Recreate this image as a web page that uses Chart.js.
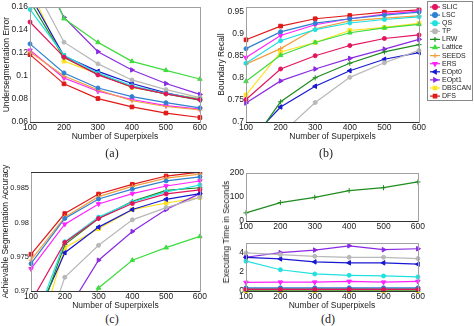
<!DOCTYPE html>
<html>
<head>
<meta charset="utf-8">
<script src="https://cdn.jsdelivr.net/npm/chart.js@4.4.1/dist/chart.umd.min.js"></script>
<style>
  html, body { margin: 0; padding: 0; background: #fff; }
  #fig { position: relative; width: 474px; height: 326px; overflow: hidden; }
  canvas { position: absolute; }
  .cap { position: absolute; font-family: 'Liberation Serif', 'Times New Roman', serif; font-size: 12px; color: #222; transform: translate(-50%, -50%); }
  .ylab { position: absolute; font-family: 'Liberation Sans', Arial, sans-serif; font-size: 8.5px; color: #222; white-space: nowrap; transform: translate(-50%, -50%) rotate(-90deg); }
</style>
</head>
<body>
<div id="fig">
  <canvas id="chA" width="208" height="142" style="left:0;top:0"></canvas>
  <canvas id="chB" width="262" height="142" style="left:212px;top:0"></canvas>
  <canvas id="chC" width="208" height="151" style="left:0;top:160px"></canvas>
  <canvas id="chD1" width="214" height="67" style="left:212px;top:166px"></canvas>
  <canvas id="chD2" width="214" height="75" style="left:212px;top:236px"></canvas>
  <div class="cap" style="left:112px;top:153px">(a)</div>
  <div class="cap" style="left:326px;top:153px">(b)</div>
  <div class="cap" style="left:112px;top:319px">(c)</div>
  <div class="cap" style="left:328px;top:319px">(d)</div>
  <div class="ylab" style="left:226px;top:232px">Executing Time in Seconds</div>
</div>
<script>
// x axis: number of superpixels
const superpixels = [100, 200, 300, 400, 500, 600];
const methods = ['SLIC', 'LSC', 'QS', 'TP', 'LRW', 'Lattice', 'SEEDS', 'ERS', 'EOpt0', 'EOpt1', 'DBSCAN', 'DFS'];

// (a) undersegmentation error, one row per method
const underseg = [
  [0.147, 0.1165, 0.1010, 0.0905, 0.0845, 0.0795],
  [0.128, 0.1027, 0.0896, 0.0821, 0.0768, 0.0723],
  [0.158, 0.1180, 0.1025, 0.0915, 0.0850, 0.0800],
  [0.185, 0.1295, 0.1106, 0.0966, 0.0882, 0.0812],
  [0.165, 0.1160, 0.1015, 0.0905, 0.0845, 0.0790],
  [0.220, 0.1500, 0.1293, 0.1128, 0.1050, 0.0974],
  [0.121, 0.1000, 0.0880, 0.0785, 0.0735, 0.0705],
  [0.1224, 0.0983, 0.0868, 0.0796, 0.0742, 0.0712],
  [0.170, 0.1175, 0.1041, 0.0935, 0.0854, 0.0793],
  [0.209, 0.1510, 0.1212, 0.1053, 0.0935, 0.0840],
  [0.176, 0.1130, 0.1019, 0.0900, 0.0846, 0.0807],
  [0.1186, 0.0932, 0.0804, 0.0731, 0.0678, 0.0639]
];

// (b) boundary recall
const recall = [
  [0.751, 0.820, 0.850, 0.873, 0.889, 0.897],
  [0.866, 0.904, 0.9236, 0.9336, 0.942, 0.9486],
  [0.833, 0.884, 0.909, 0.924, 0.932, 0.938],
  [0.600, 0.672, 0.744, 0.801, 0.834, 0.862],
  [0.635, 0.7457, 0.800, 0.833, 0.8586, 0.875],
  [0.792, 0.851, 0.880, 0.902, 0.913, 0.921],
  [0.831, 0.866, 0.911, 0.929, 0.935, 0.940],
  [0.8457, 0.8957, 0.920, 0.9336, 0.944, 0.951],
  [0.651, 0.734, 0.781, 0.816, 0.842, 0.857],
  [0.743, 0.793, 0.820, 0.844, 0.865, 0.887],
  [0.761, 0.8586, 0.880, 0.907, 0.914, 0.923],
  [0.886, 0.917, 0.9336, 0.941, 0.9486, 0.9536]
];

// (c) achievable segmentation accuracy
const accuracy = [
  [0.9684, 0.9771, 0.9806, 0.9828, 0.9842, 0.9848],
  [0.9740, 0.9806, 0.98345, 0.9849, 0.9861, 0.9867],
  [0.9640, 0.9772, 0.9808, 0.9830, 0.9845, 0.9855],
  [0.9577, 0.9720, 0.97668, 0.9804, 0.9822, 0.9837],
  [0.9630, 0.9768, 0.9806, 0.9831, 0.9847, 0.9851],
  [0.9500, 0.9620, 0.97044, 0.9745, 0.97634, 0.97798],
  [0.9745, 0.9808, 0.9838, 0.9853, 0.9865, 0.9871],
  [0.97324, 0.97977, 0.98273, 0.98424, 0.98535, 0.98608],
  [0.9644, 0.9756, 0.97934, 0.98191, 0.98341, 0.98424],
  [0.9550, 0.9665, 0.9745, 0.97871, 0.98191, 0.98424],
  [0.9597, 0.97634, 0.9791, 0.9819, 0.98287, 0.98366],
  [0.97537, 0.98132, 0.98418, 0.9856, 0.98681, 0.98739]
];

// (d) executing time in seconds; LRW drawn alone in the upper panel
const timeLRW = [34, 77, 99, 127, 139, 163];
const timeOthers = [
  [0.15, 0.15, 0.15, 0.15, 0.15, 0.15],
  [0.33, 0.33, 0.33, 0.33, 0.33, 0.33],
  [3.11, 2.22, 1.78, 1.64, 1.57, 1.47],
  [3.97, 3.80, 3.62, 3.52, 3.52, 3.38],
  null,
  [0.06, 0.06, 0.06, 0.06, 0.06, 0.06],
  [0.10, 0.10, 0.10, 0.10, 0.10, 0.10],
  [0.89, 0.92, 0.92, 1.00, 0.92, 1.00],
  [3.52, 3.35, 3.04, 2.94, 2.94, 2.80],
  [3.52, 4.00, 4.27, 4.72, 4.31, 4.41],
  [0.03, 0.03, 0.03, 0.03, 0.03, 0.03],
  [0.22, 0.22, 0.22, 0.22, 0.22, 0.22]
];

// tick values
const yTicksA = [0.06, 0.08, 0.1, 0.12, 0.14, 0.16];
const yTicksB = [0.7, 0.75, 0.8, 0.85, 0.9, 0.95];
const yTicksC = [0.97, 0.975, 0.98, 0.985];
const yTicksD1 = [0, 100, 200];
const yTicksD2 = [0, 2, 4];

const colors = ['#e3145e', '#2f80d0', '#22e0e0', '#b8b8b8', '#1e8c1e', '#3fdc3f',
                '#f0a040', '#ff22ff', '#1818d0', '#8a2be2', '#ffe21e', '#e01818'];
const markers = [
  { style: 'circle', rot: 0 }, { style: 'circle', rot: 0 }, { style: 'circle', rot: 0 },
  { style: 'circle', rot: 0 }, { style: 'cross', rot: 0 }, { style: 'triangle', rot: 0 },
  { style: 'cross', rot: 0 }, { style: 'triangle', rot: 180 }, { style: 'triangle', rot: 270 },
  { style: 'triangle', rot: 90 }, { style: 'rect', rot: 0 }, { style: 'rect', rot: 0 }
];

const FONT = "'Liberation Sans', Arial, sans-serif";

function series(i, values, clipBottom) {
  return {
    label: methods[i],
    data: superpixels.map((x, k) => ({ x: x, y: values[k] })),
    borderColor: colors[i],
    backgroundColor: colors[i],
    borderWidth: 1.2,
    pointStyle: markers[i].style,
    pointRotation: markers[i].rot,
    pointRadius: markers[i].style === 'circle' ? 2 : 2.6,
    pointBorderWidth: 1,
    tension: 0,
    clip: { left: 6, right: 6, top: 0, bottom: clipBottom || 0 }
  };
}

// MATLAB-like axes box
const boxPlugin = {
  id: 'axesBox',
  afterDraw(chart, args, opts) {
    const { ctx, chartArea: a } = chart;
    ctx.save();
    ctx.lineWidth = 1;
    ctx.strokeStyle = '#a0a0a0';
    ctx.strokeRect(Math.round(a.left) + 0.5, Math.round(a.top) + 0.5, Math.round(a.right - a.left), Math.round(a.bottom - a.top));
    ctx.strokeStyle = '#333';
    ctx.beginPath();
    ctx.moveTo(a.left, Math.round(a.bottom) + 0.5);
    ctx.lineTo(a.right, Math.round(a.bottom) + 0.5);
    if (opts.darkTop) {
      ctx.moveTo(a.left, Math.round(a.top) + 0.5);
      ctx.lineTo(a.right, Math.round(a.top) + 0.5);
    }
    ctx.stroke();
    ctx.restore();
  }
};

const legendPlugin = {
  id: 'sideLegend',
  afterDraw(chart) {
    const { ctx, chartArea } = chart;
    const x0 = Math.round(chartArea.right) + 8;
    ctx.save();
    ctx.fillStyle = '#fff';
    ctx.fillRect(x0, 1, 45, 99);
    ctx.strokeStyle = '#888';
    ctx.lineWidth = 1;
    ctx.strokeRect(x0 + 0.5, 1.5, 45, 99);
    ctx.font = '7px ' + FONT;
    ctx.textBaseline = 'middle';
    methods.forEach((m, i) => {
      const y = 7 + i * 8.1;
      ctx.strokeStyle = colors[i];
      ctx.fillStyle = colors[i];
      ctx.lineWidth = 1.2;
      ctx.beginPath();
      ctx.moveTo(x0 + 3, y);
      ctx.lineTo(x0 + 13, y);
      ctx.stroke();
      Chart.helpers.drawPoint(ctx, { pointStyle: markers[i].style, rotation: markers[i].rot, radius: 2.4, borderWidth: 1 }, x0 + 8, y);
      ctx.fillStyle = '#222';
      ctx.fillText(m, x0 + 15, y);
    });
    ctx.restore();
  }
};

function makeChart(id, cfg) {
  const xTitle = cfg.xTitle !== false;
  return new Chart(document.getElementById(id), {
    type: 'line',
    data: { datasets: cfg.datasets },
    plugins: cfg.legend ? [boxPlugin, legendPlugin] : [boxPlugin],
    options: {
      responsive: false,
      animation: false,
      events: [],
      layout: { padding: { top: cfg.padTop, right: cfg.padRight, left: 0, bottom: 0 } },
      plugins: { legend: { display: false }, tooltip: { enabled: false }, axesBox: { darkTop: !!cfg.darkTop } },
      scales: {
        x: {
          type: 'linear', min: 100, max: 600,
          afterBuildTicks: s => { s.ticks = superpixels.map(v => ({ value: v })); },
          afterFit: s => { s.height = cfg.xHeight; },
          grid: { display: false, drawTicks: false },
          border: { display: false },
          ticks: { autoSkip: false, maxRotation: 0, padding: 1, color: '#222', font: { family: FONT, size: 8.5 } },
          title: { display: xTitle, text: 'Number of Superpixels', color: '#222', padding: 0, font: { family: FONT, size: 8.5 } }
        },
        y: {
          type: 'linear', min: cfg.yMin, max: cfg.yMax,
          afterBuildTicks: s => { s.ticks = cfg.yTicks.map(v => ({ value: v })); },
          afterFit: s => { s.width = cfg.yWidth; },
          grid: { display: false, drawTicks: false },
          border: { display: false },
          ticks: { autoSkip: false, padding: 2, color: '#222', font: { family: FONT, size: cfg.yTickSize || 8.5 }, callback: v => String(v) },
          title: { display: !!cfg.yTitle, text: cfg.yTitle || '', color: '#222', padding: { top: cfg.yTitlePad, bottom: 0 }, font: { family: FONT, size: 8.5 } }
        }
      }
    }
  });
}

makeChart('chA', {
  datasets: underseg.map((v, i) => series(i, v)),
  yMin: 0.06, yMax: 0.16, yTicks: yTicksA, yWidth: 30, padTop: 3, padRight: 6, xHeight: 20,
  yTitle: 'Undersegmentation Error', yTitlePad: 2
});

makeChart('chB', {
  datasets: recall.map((v, i) => series(i, v)),
  yMin: 0.7, yMax: 0.96, yTicks: yTicksB, yWidth: 34, padTop: 2, padRight: 55, xHeight: 20,
  yTitle: 'Boundary Recall', yTitlePad: 5, legend: true
});

makeChart('chC', {
  datasets: accuracy.map((v, i) => series(i, v)),
  yMin: 0.97, yMax: 0.9874, yTicks: yTicksC, yWidth: 31, padTop: 12, padRight: 5, xHeight: 20,
  yTitle: 'Achievable Segmentation Accuracy', yTitlePad: 1, yTickSize: 7.5, darkTop: true
});

makeChart('chD1', {
  datasets: [series(4, timeLRW)],
  yMin: 0, yMax: 200, yTicks: yTicksD1, yWidth: 34, padTop: 7, padRight: 7, xHeight: 12,
  xTitle: false
});

makeChart('chD2', {
  datasets: timeOthers.map((v, i) => v ? series(i, v, 4) : null).filter(Boolean),
  yMin: 0, yMax: 5, yTicks: yTicksD2, yWidth: 34, padTop: 7, padRight: 7, xHeight: 20
});
</script>
</body>
</html>
